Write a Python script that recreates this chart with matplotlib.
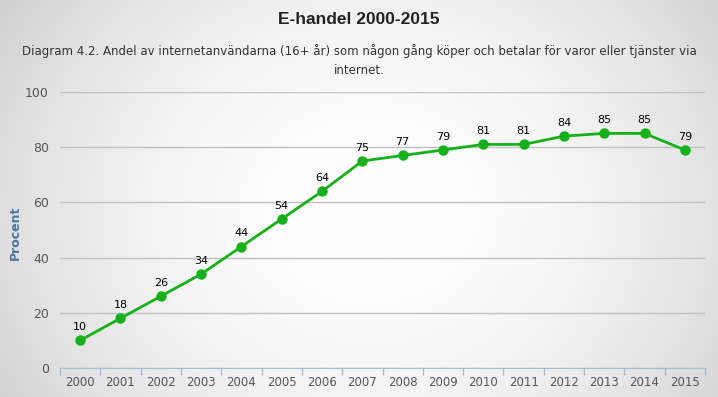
import numpy as np
import matplotlib
matplotlib.use('Agg')
import matplotlib.pyplot as plt

# Datos del gráfico
years = [str(y) for y in range(2000, 2016)]
procent = [10, 18, 26, 34, 44, 54, 64, 75, 77, 79, 81, 81, 84, 85, 85, 79]
y_ticks = [0, 20, 40, 60, 80, 100]

fig = plt.figure(figsize=(7.18, 3.97), dpi=100)

# Fondo con gradiente radial suave
bg = fig.add_axes([0, 0, 1, 1], zorder=-10)
yy, xx = np.mgrid[0:397, 0:718]
r = np.sqrt(((xx - 370) / 370) ** 2 + ((yy - 210) / 320) ** 2)
shade = 1.0 - 0.13 * np.clip(r, 0, 1.2) ** 2
bg.imshow(np.dstack([shade, shade, shade]), aspect='auto', extent=[0, 1, 0, 1])
bg.axis('off')

W, H = 718, 397
ax = fig.add_axes([60 / W, (H - 368) / H, (705 - 60) / W, (368 - 92) / H])
ax.patch.set_alpha(0)

x = np.arange(len(years))
ax.plot(x, procent, color='#16b11a', lw=2, marker='o', ms=6.5, zorder=3, clip_on=False)
for xi, v in zip(x, procent):
    ax.annotate(str(v), (xi, v), xytext=(0, 6), textcoords='offset points',
                ha='center', va='bottom', fontsize=8, color='black',
                family='DejaVu Sans')

ax.set_xlim(-0.5, len(years) - 0.5)
ax.set_ylim(0, 100)
ax.set_yticks(y_ticks)
ax.set_xticks(x)
ax.set_xticklabels(years)
ax.grid(axis='y', color='#c0c0c0', lw=1)
ax.set_axisbelow(True)
for s in ['top', 'right', 'left']:
    ax.spines[s].set_visible(False)
ax.spines['bottom'].set_color('#a8bdd4')
ax.set_xticks(np.arange(-0.5, len(years)), minor=True)
ax.tick_params(axis='x', which='major', length=0, pad=6, labelsize=8.5, labelcolor='#555555')
ax.tick_params(axis='x', which='minor', length=5, width=1, color='#a8bdd4', direction='out')
ax.tick_params(axis='y', length=0, pad=8, labelsize=9, labelcolor='#555555')
ax.set_ylabel('Procent', color='#4d759e', fontsize=9, fontweight='bold')
ax.yaxis.set_label_coords((22 - 60) / (705 - 60), (368 - 233) / (368 - 92))

fig.text(0.5, 1 - 20 / H, 'E-handel 2000-2015', ha='center', va='center',
         fontsize=12.5, fontweight='bold', color='#222222', family='Liberation Sans')
fig.text(0.5, 1 - 61 / H,
         'Diagram 4.2. Andel av internetanvändarna (16+ år) som någon gång köper och betalar för varor eller tjänster via\ninternet.',
         ha='center', va='center', fontsize=8.5, color='#333333', linespacing=1.6,
         family='DejaVu Sans')

plt.savefig('out.png', dpi=100)
